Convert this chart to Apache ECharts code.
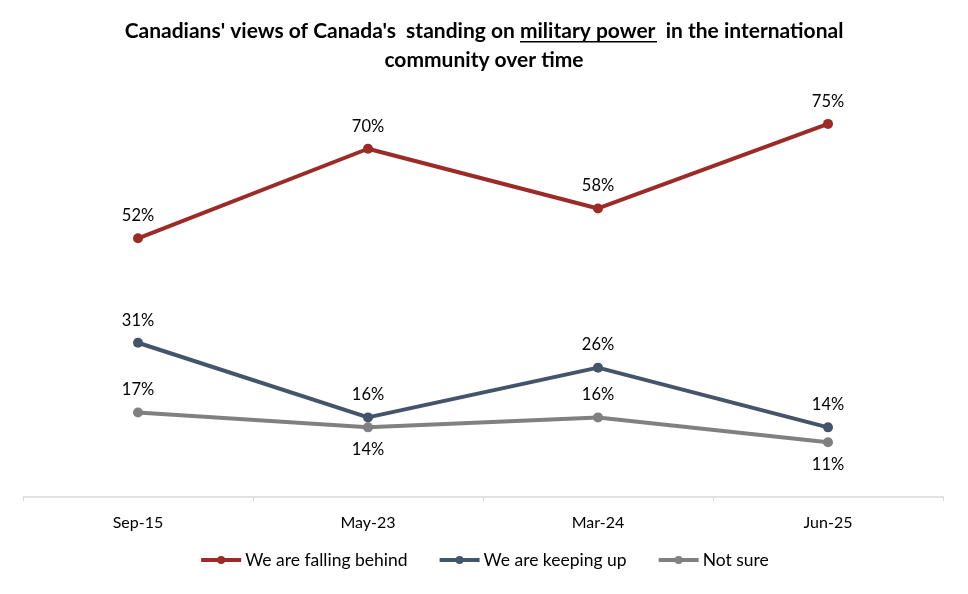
<!DOCTYPE html>
<html>
<head>
<meta charset="utf-8">
<script src="https://cdn.jsdelivr.net/npm/echarts@6/dist/echarts.min.js"></script>
<style>
html, body { margin: 0; padding: 0; background: #fff; }
#main { width: 968px; height: 594px; }
</style>
</head>
<body>
<div id="main"></div>
<script>
// categories and series values (%)
var categories = ['Sep-15', 'May-23', 'Mar-24', 'Jun-25'];
var fallingBehind = [52, 70, 58, 75];
var keepingUp = [31, 16, 26, 14];
var notSure = [17, 14, 16, 11];
var notSureLabelPos = ['top', 'bottom', 'top', 'bottom'];

var font = 'Lato';

// line series builder
var makeSeries = function(name, data, color, positions) {
	return {
		name: name,
		type: 'line',
		data: data.map(function(v, i) {
			return { value: v, label: { position: positions ? positions[i] : 'top' } };
		}),
		symbol: 'circle',
		symbolSize: 10,
		lineStyle: { color: color, width: 4 },
		itemStyle: { color: color },
		label: {
			show: true,
			position: 'top',
			distance: 9,
			formatter: '{c}%',
			fontFamily: font,
			fontSize: 16.5,
			color: '#000'
		}
	};
};

var chart = echarts.init(document.getElementById('main'));
chart.setOption({
	animation: false,
	title: {
		text: "Canadians' views of Canada's  standing on military power  in the international\ncommunity over time",
		left: 'center',
		top: 12,
		textStyle: { fontFamily: font, fontWeight: 'bold', fontSize: 21, color: '#000', lineHeight: 29, align: 'center' }
	},
	graphic: [{
		type: 'rect',
		id: 'underline',
		shape: { x: 520, y: 41, width: 137, height: 1.5 },
		style: { fill: '#000' }
	}],
	legend: {
		bottom: 20,
		left: 'center',
		itemWidth: 40,
		itemHeight: 10,
		itemGap: 30,
		lineStyle: { width: 4 },
		textStyle: { fontFamily: font, fontSize: 17.5, color: '#000', padding: [0, 0, 0, -1] },
		data: ['We are falling behind', 'We are keeping up', 'Not sure']
	},
	grid: { left: 23, right: 25, top: 99, bottom: 97 },
	xAxis: {
		type: 'category',
		data: categories,
		boundaryGap: true,
		axisLine: { lineStyle: { color: '#d9d9d9', width: 1.5 } },
		axisTick: { show: true, length: 4, lineStyle: { color: '#d9d9d9' } },
		axisLabel: { fontFamily: font, fontSize: 16, color: '#000', margin: 18 }
	},
	yAxis: {
		type: 'value',
		min: 0,
		max: 80,
		show: false,
		splitLine: { show: false }
	},
	series: [
		makeSeries('We are falling behind', fallingBehind, '#9b2b27'),
		makeSeries('We are keeping up', keepingUp, '#44546a'),
		makeSeries('Not sure', notSure, '#808080', notSureLabelPos)
	]
});
</script>
</body>
</html>
